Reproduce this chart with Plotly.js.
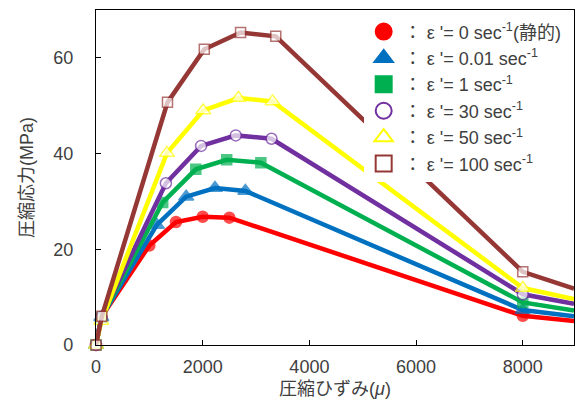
<!DOCTYPE html>
<html><head><meta charset="utf-8">
<script src="https://cdn.plot.ly/plotly-3.0.1.min.js"></script>
<style>html,body{margin:0;padding:0;background:#fff;}#chart{width:576px;height:406px;}</style>
</head><body><div id="chart"></div>
<script>
// strain (μ) and stress (MPa) per strain rate
const names = ["ε '= 0 sec<sup>-1</sup>(静的)", "ε '= 0.01 sec<sup>-1</sup>", "ε '= 1 sec<sup>-1</sup>", "ε '= 30 sec<sup>-1</sup>", "ε '= 50 sec<sup>-1</sup>", "ε '= 100 sec<sup>-1</sup>"];
const xRed    = [0, 100, 1000, 1500, 2000, 2500, 8000, 8960];
const yRed    = [0, 5.8, 20.8, 25.7, 26.8, 26.6, 6.1, 5.0];
const xBlue   = [0, 100, 1140, 1690, 2230, 2800, 8000, 8960];
const yBlue   = [0, 5.8, 25.1, 31.0, 32.8, 32.2, 7.3, 6.0];
const xGreen  = [0, 100, 1250, 1870, 2450, 3090, 8000, 8960];
const yGreen  = [0, 5.8, 29.8, 36.7, 38.7, 38.1, 8.9, 7.2];
const xPurple = [0, 100, 1310, 1970, 2620, 3290, 8000, 8960];
const yPurple = [0, 5.8, 33.8, 41.6, 43.8, 43.1, 10.6, 8.6];
const xYellow = [0, 100, 1330, 2010, 2670, 3310, 8000, 8960];
const yYellow = [0, 5.0, 40.1, 49.0, 51.6, 50.9, 11.9, 9.6];
const xBrown  = [0, 110, 1340, 2030, 2710, 3370, 8000, 8960];
const yBrown  = [0, 6.0, 50.7, 61.8, 65.3, 64.5, 15.3, 11.8];
const xTicks = [0, 2000, 4000, 6000, 8000];
const yTicks = [0, 20, 40, 60];

const series = [
  {x:xRed, y:yRed, color:'#ff0000', symbol:'circle', fill:'#ff0000', size:11},
  {x:xBlue, y:yBlue, color:'#0070c0', symbol:'triangle-up', fill:'#0070c0', size:13},
  {x:xGreen, y:yGreen, color:'#00b050', symbol:'square', fill:'#00b050', size:10},
  {x:xPurple, y:yPurple, color:'#7030a0', symbol:'circle', fill:'#ffffff', size:11},
  {x:xYellow, y:yYellow, color:'#ffff00', symbol:'triangle-up', fill:'#ffffff', size:13},
  {x:xBrown, y:yBrown, color:'#953735', symbol:'square', fill:'#ffffff', size:10}
];
const font = 'Arial, "Liberation Sans", "Noto Sans CJK JP", sans-serif';
const traces = [];
series.forEach(s => {
  const sizes = s.x.map((v, i) => i === s.x.length - 1 ? 0 : s.size);
  traces.push({
    type:'scatter', mode:'lines+markers', x:s.x, y:s.y, showlegend:false, hoverinfo:'skip',
    cliponaxis:false,
    line:{color:s.color, width:4.5},
    marker:{symbol:s.symbol, size:sizes, color:s.fill, line:{color:s.color, width:1.5}}
  });
});
series.forEach((s, i) => {
  traces.push({
    type:'scatter', mode:'markers', x:[null], y:[null], name:'： ' + names[i], showlegend:true,
    marker:{symbol:s.symbol, size:16, color:s.fill, line:{color:s.color, width:2}}
  });
});

const layout = {
  width:576, height:406,
  margin:{l:96, r:2, t:10, b:61},
  paper_bgcolor:'#ffffff', plot_bgcolor:'#ffffff',
  font:{family:font, size:18, color:'#404040'},
  showlegend:true,
  legend:{x:0.56, y:0.99, xanchor:'left', yanchor:'top', bgcolor:'#ffffff', borderwidth:0,
          font:{family:font, size:18, color:'#404040'}, tracegroupgap:0, itemwidth:30},
  xaxis:{range:[0, 8960], tickvals:xTicks, ticktext:xTicks.map(String), ticks:'inside', ticklen:5,
         tickcolor:'#000', showline:true, linecolor:'#000', linewidth:1.2, mirror:true, showgrid:false,
         zeroline:false, ticklabelstandoff:5, tickfont:{size:18},
         title:{text:'圧縮ひずみ(<i>μ</i>)', font:{size:18}, standoff:6}},
  yaxis:{range:[0, 70], tickvals:yTicks, ticktext:yTicks.map(String), ticks:'inside', ticklen:5,
         tickcolor:'#000', showline:true, linecolor:'#000', linewidth:1.2, mirror:true, showgrid:false,
         zeroline:false, ticklabelstandoff:18, tickfont:{size:18},
         title:{text:'圧縮応力(MPa)', font:{size:18}, standoff:14}}
};
Plotly.newPlot('chart', traces, layout, {staticPlot:true, displayModeBar:false});
</script></body></html>
